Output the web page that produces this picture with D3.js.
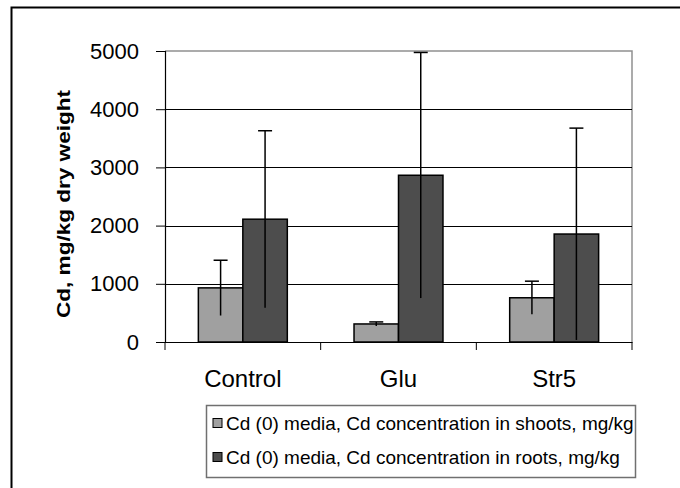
<!DOCTYPE html>
<html><head><meta charset="utf-8">
<script src="https://cdn.jsdelivr.net/npm/d3@7"></script>
<style>body{margin:0;background:#fff}svg{display:block}text{font-family:Arial,"Liberation Sans",sans-serif}</style>
</head><body><svg id="c" width="680" height="488"></svg>
<script>
const categories = ["Control", "Glu", "Str5"];
const seriesNames = ["Cd (0) media, Cd concentration in shoots, mg/kg", "Cd (0) media, Cd concentration in roots, mg/kg"];
const shoots = [930, 310, 760];
const shootsErr = [475, 35, 285];
const roots = [2110, 2865, 1855];
const rootsErr = [1520, 2110, 1820];
const yTicks = [0, 1000, 2000, 3000, 4000, 5000];
const colors = ["#a0a0a0", "#4d4d4d"];

const svg = d3.select("#c");
const L = 165, R = 632, T = 51, B = 342;
const x = d3.scaleBand().domain(categories).range([L, R]).paddingInner(0).paddingOuter(0);
const y = d3.scaleLinear().domain([0, 5000]).range([B, T]);
const bw = x.bandwidth() / 3.5;
const FF = "Arial, 'Liberation Sans', sans-serif";

// outer border
svg.append("path").attr("d", `M11.5,488 V7.5 H680`).attr("fill", "none").attr("stroke", "#000").attr("stroke-width", 2);

// plot frame (gray top/right)
svg.append("path").attr("d", `M${L},${T} H${R} V${B}`).attr("fill", "none").attr("stroke", "#909090").attr("stroke-width", 1.5);

// gridlines
svg.append("g").selectAll("line").data(yTicks.filter(d => d > 0 && d < 5000)).join("line")
  .attr("x1", L).attr("x2", R).attr("y1", d => Math.round(y(d)) + 0.5).attr("y2", d => Math.round(y(d)) + 0.5)
  .attr("stroke", "#000").attr("stroke-width", 1);

// bars
const data = categories.map((c, i) => [
  {c, s: 0, v: shoots[i], e: shootsErr[i]},
  {c, s: 1, v: roots[i], e: rootsErr[i]}
]).flat();
const bx = d => x(d.c) + x.bandwidth() / 2 + (d.s === 0 ? -bw : 0);
svg.append("g").selectAll("rect").data(data).join("rect")
  .attr("x", bx).attr("width", bw)
  .attr("y", d => y(d.v)).attr("height", d => y(0) - y(d.v))
  .attr("fill", d => colors[d.s]).attr("stroke", "#000").attr("stroke-width", 1.5);

// error bars
const eg = svg.append("g").attr("stroke", "#000").attr("stroke-width", 1.5);
data.forEach(d => {
  const cx = bx(d) + bw / 2;
  const lo = Math.max(0, d.v - d.e), hi = d.v + d.e;
  eg.append("line").attr("x1", cx).attr("x2", cx).attr("y1", y(lo)).attr("y2", y(hi));
  eg.append("line").attr("x1", cx - 7).attr("x2", cx + 7).attr("y1", y(hi)).attr("y2", y(hi));
});

// y axis
const ya = svg.append("g").attr("transform", `translate(${L},0)`)
  .call(d3.axisLeft(y).tickValues(yTicks).tickSize(9).tickPadding(17).tickFormat(d3.format("d")));
ya.select(".domain").attr("stroke", "#000").attr("stroke-width", 1.2);
ya.selectAll(".tick line").attr("stroke", "#000");
ya.selectAll("text").attr("font-size", 22).attr("fill", "#000").style("font-family", FF);

// x axis
const xa = svg.append("g").attr("transform", `translate(0,${B})`)
  .call(d3.axisBottom(x).tickSize(0).tickPadding(0));
xa.select(".domain").attr("stroke", "#000").attr("stroke-width", 1.2);
xa.selectAll("text").attr("font-size", 24).attr("fill", "#000").attr("dy", null).attr("y", 45)
  .style("font-family", FF);
// category separator ticks
svg.append("g").selectAll("line").data([L, ...categories.map(c => x(c) + x.bandwidth())]).join("line")
  .attr("x1", d => d).attr("x2", d => d).attr("y1", B).attr("y2", B + 8)
  .attr("stroke", "#000").attr("stroke-width", 1);

// y title
svg.append("text").attr("transform", `translate(63,${204}) rotate(-90)`)
  .attr("text-anchor", "middle").attr("dominant-baseline", "central")
  .attr("font-size", 18.5).attr("font-weight", "bold")
  .attr("textLength", 228).attr("lengthAdjust", "spacingAndGlyphs")
  .text("Cd, mg/kg dry weight");

// legend
const lg = svg.append("g");
lg.append("rect").attr("x", 206.5).attr("y", 405.5).attr("width", 429).attr("height", 72)
  .attr("fill", "#fff").attr("stroke", "#707070").attr("stroke-width", 1.5);
seriesNames.forEach((n, i) => {
  const cy = 423 + i * 34;
  lg.append("rect").attr("x", 213).attr("y", cy - 4.5).attr("width", 9).attr("height", 9)
    .attr("fill", colors[i]).attr("stroke", "#000").attr("stroke-width", 1);
  lg.append("text").attr("x", 226).attr("y", cy).attr("dominant-baseline", "central")
    .attr("font-size", 19).text(n);
});
</script></body></html>
